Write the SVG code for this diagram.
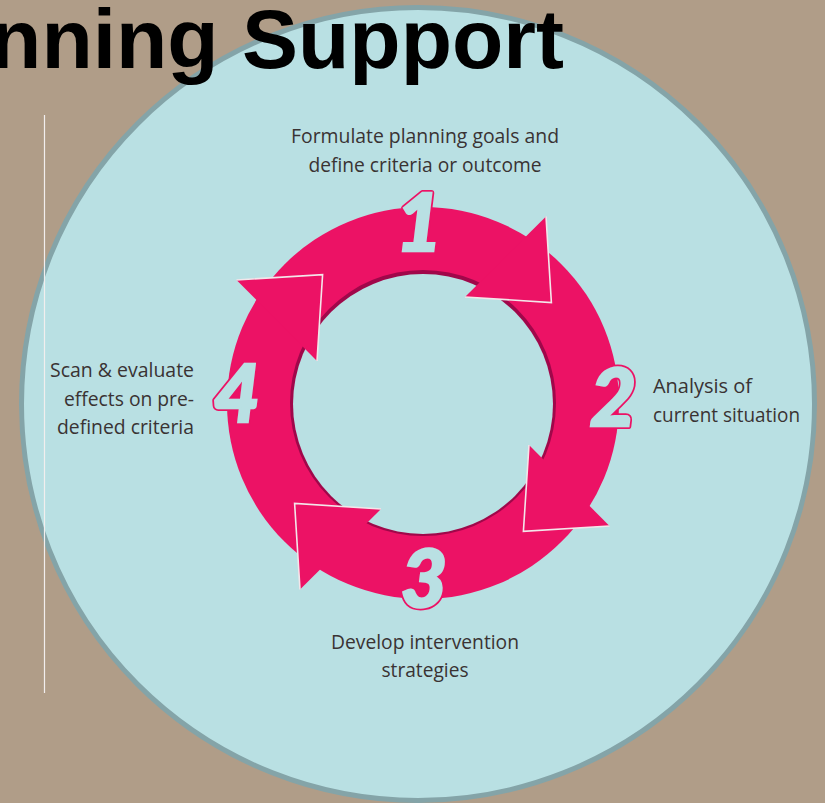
<svg xmlns="http://www.w3.org/2000/svg" width="825" height="803" viewBox="0 0 825 803">
  <style>
    .lbl { font-family: "Open Sans", "DejaVu Sans", sans-serif; font-size: 20px; fill: #3a3333; }
    .num { font-family: Lato, "Open Sans", sans-serif; font-size: 80px; font-weight: 900; font-style: italic; fill: #b9e0e3; stroke: #b9e0e3; stroke-width: 2.4; text-anchor: middle; }
    .numo { font-family: Lato, "Open Sans", sans-serif; font-size: 80px; font-weight: 900; font-style: italic; fill: #ec1265; stroke: #ec1265; stroke-width: 6; stroke-linejoin: round; text-anchor: middle; }
    .head { fill: #ec1265; }
    .edge { fill: none; stroke: #f3e6ea; stroke-width: 1.6; stroke-linejoin: miter; }
  </style>
  <rect x="0" y="0" width="825" height="803" fill="#b09d88"/>
  <g id="frame">
    <circle cx="418" cy="404" r="396.5" fill="#b9e0e3" stroke="#84a4a8" stroke-width="5"/>
    <line x1="44.5" y1="115" x2="44.5" y2="693" stroke="#f2eeee" stroke-width="1.2"/>
  </g>
  <g id="title">
    <text x="-136" y="68" font-family="'Liberation Sans', Arial, sans-serif" font-weight="bold" font-size="84" fill="#000">Planning Support</text>
  </g>
  <g id="connectors">
    <circle cx="423" cy="403" r="196" fill="#ec1265"/>
    <circle cx="423" cy="403" r="133" fill="#a0074a"/>
    <circle cx="423" cy="404" r="130" fill="#b9e0e3"/>
  </g>
  <g id="step1">
    <polygon class="head" points="546,216.5 551.4,302.6 465,297"/>
    <polyline class="edge" points="546,216.5 551.4,302.6 465,297"/>
    <text class="numo" x="419" y="251">1</text>
    <text class="num" x="419" y="251">1</text>
    <text class="lbl" x="425" y="143" text-anchor="middle" textLength="268" lengthAdjust="spacingAndGlyphs">Formulate planning goals and</text>
    <text class="lbl" x="425" y="172" text-anchor="middle" textLength="233" lengthAdjust="spacingAndGlyphs">define criteria or outcome</text>
  </g>
  <g id="step2">
    <polygon class="head" points="609.5,526 523.4,531.4 529,445"/>
    <polyline class="edge" points="609.5,526 523.4,531.4 529,445"/>
    <text class="numo" x="613" y="426">2</text>
    <text class="num" x="613" y="426">2</text>
    <text class="lbl" x="653" y="393" textLength="99" lengthAdjust="spacingAndGlyphs">Analysis of</text>
    <text class="lbl" x="653" y="422" textLength="147" lengthAdjust="spacingAndGlyphs">current situation</text>
  </g>
  <g id="step3">
    <polygon class="head" points="300,589.5 294.6,503.4 381,509"/>
    <polyline class="edge" points="300,589.5 294.6,503.4 381,509"/>
    <text class="numo" x="424" y="607">3</text>
    <text class="num" x="424" y="607">3</text>
    <text class="lbl" x="425" y="649" text-anchor="middle" textLength="188" lengthAdjust="spacingAndGlyphs">Develop intervention</text>
    <text class="lbl" x="425" y="677" text-anchor="middle" textLength="87" lengthAdjust="spacingAndGlyphs">strategies</text>
  </g>
  <g id="step4">
    <polygon class="head" points="236.5,280 322.6,274.6 317,361"/>
    <polyline class="edge" points="236.5,280 322.6,274.6 317,361"/>
    <text class="numo" x="237" y="422">4</text>
    <text class="num" x="237" y="422">4</text>
    <text class="lbl" x="194" y="377" text-anchor="end" textLength="144" lengthAdjust="spacingAndGlyphs">Scan &amp; evaluate</text>
    <text class="lbl" x="194" y="406" text-anchor="end" textLength="130" lengthAdjust="spacingAndGlyphs">effects on pre-</text>
    <text class="lbl" x="194" y="434" text-anchor="end" textLength="137" lengthAdjust="spacingAndGlyphs">defined criteria</text>
  </g>
</svg>
